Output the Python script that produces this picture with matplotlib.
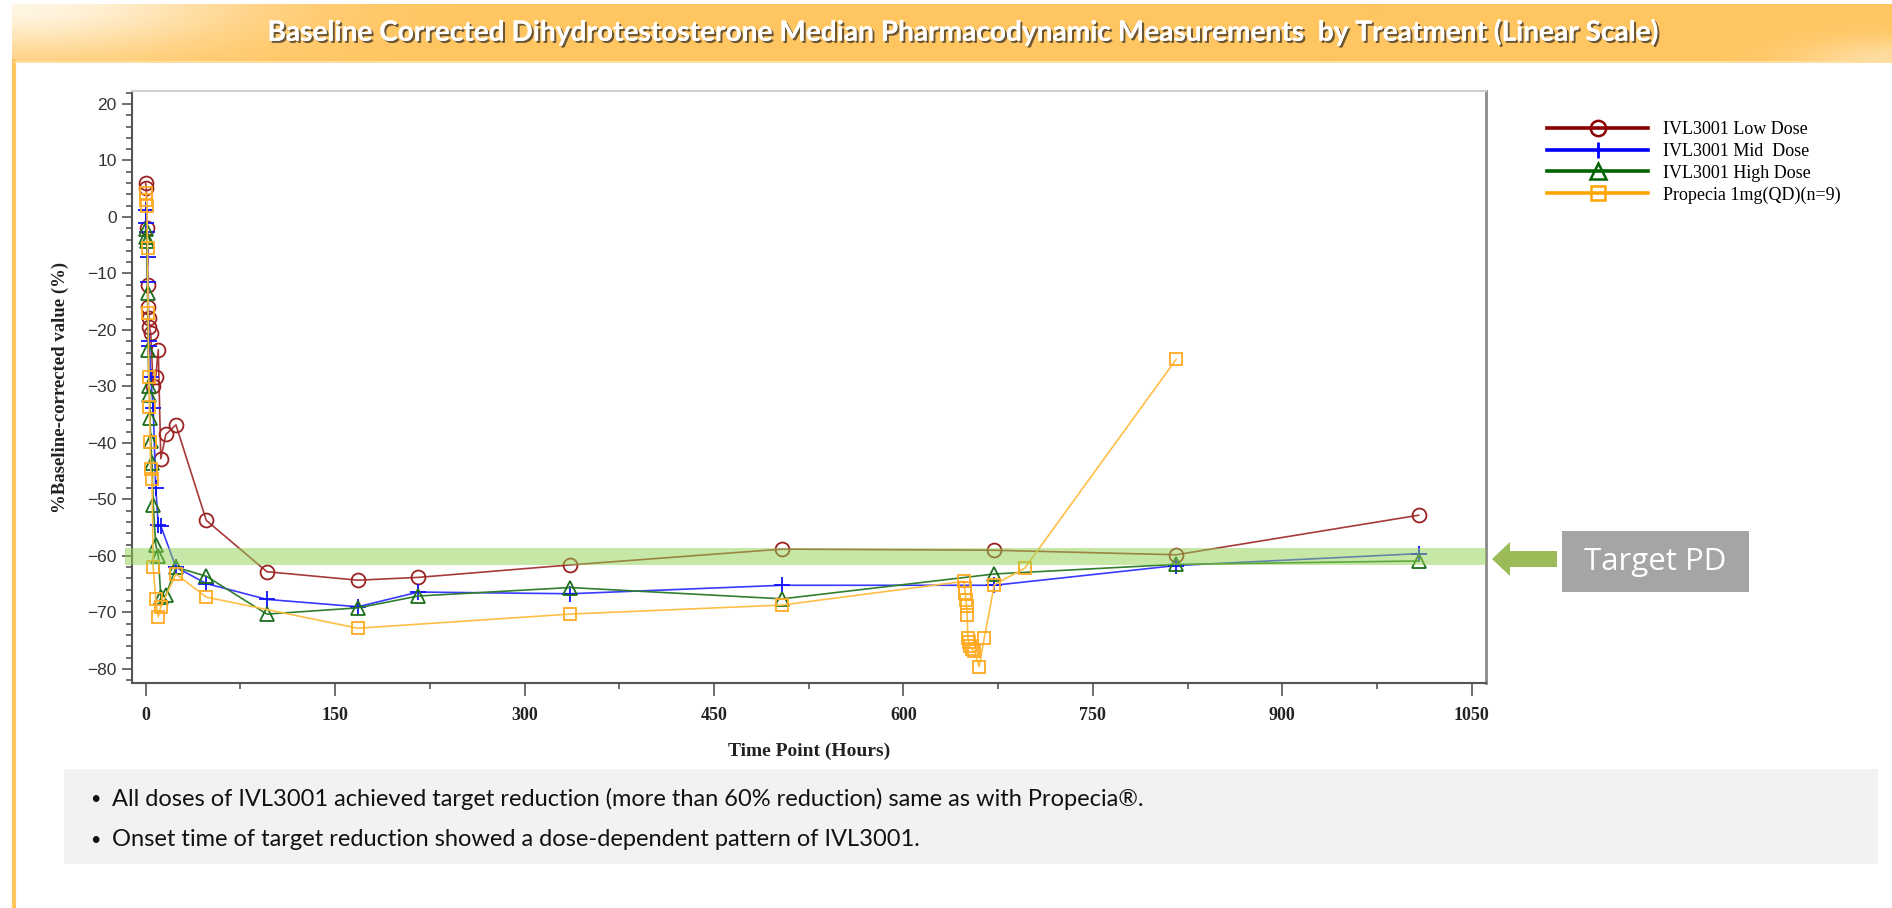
import numpy as np
import matplotlib
matplotlib.use("Agg")
import matplotlib.pyplot as plt
from matplotlib.lines import Line2D
from matplotlib.patches import Rectangle, Polygon
from matplotlib.ticker import MultipleLocator
import matplotlib.patheffects as pe
import matplotlib.transforms as mtransforms

# ---------------- data ----------------
low_t = [0, 0.5, 1, 1.5, 2, 2.5, 3, 4, 6, 8, 10, 12, 16, 24, 48, 96, 168, 216, 336, 504, 672, 816, 1008]
low_v = [6.0, 5.2, -2.0, -12.0, -16.0, -17.8, -19.5, -20.5, -30.0, -28.3, -23.5, -42.8, -38.5, -36.8,
         -53.7, -62.8, -64.3, -63.8, -61.6, -58.8, -59.0, -59.8, -52.8]

mid_t = [0, 0.5, 1, 1.5, 2, 2.5, 3, 4, 6, 8, 10, 12, 24, 48, 96, 168, 216, 336, 504, 672, 816, 1008]
mid_v = [-1.0, 1.2, -2.7, -7.1, -11.5, -22.0, -22.8, -28.3, -33.9, -48.0, -54.5, -54.7, -62.0,
         -64.9, -67.7, -69.0, -66.4, -66.7, -65.2, -65.2, -61.7, -59.6]

high_t = [0, 0.5, 1, 1.5, 2, 2.5, 3, 3.5, 4, 5, 6, 8, 10, 12, 16, 24, 48, 96, 168, 216, 336, 504, 672, 816, 1008]
high_v = [-2.2, -3.5, -4.3, -13.5, -23.5, -30.0, -31.5, -35.5, -39.7, -43.5, -51.0, -58.0, -60.0,
          -67.2, -67.0, -62.0, -63.6, -70.3, -69.2, -67.1, -65.6, -67.6, -63.2, -61.5, -60.9]

prop_t = [0, 0.5, 1, 1.5, 2, 2.5, 3, 3.5, 4, 5, 6, 8, 10, 12, 24, 48, 168, 336, 504,
          648, 648.5, 649, 649.5, 650, 650.5, 651, 652, 653, 654, 656, 660, 664, 672, 696, 816]
prop_v = [4.3, 3.0, 2.0, -5.5, -17.0, -28.3, -33.7, -39.8, -44.7, -46.3, -62.0, -67.7, -70.8, -69.0,
          -63.2, -67.3, -72.8, -70.3, -68.7, -64.5, -65.7, -66.6, -67.8, -68.9, -70.4, -74.5, -75.3,
          -76.0, -76.5, -76.8, -79.6, -74.6, -65.1, -62.2, -25.2]

labels = ["IVL3001 Low Dose", "IVL3001 Mid  Dose", "IVL3001 High Dose", "Propecia 1mg(QD)(n=9)"]
target_low, target_high = -61.6, -58.6
x_ticks = [0, 150, 300, 450, 600, 750, 900, 1050]
y_ticks = [-80, -70, -60, -50, -40, -30, -20, -10, 0, 10, 20]

title = "Baseline Corrected Dihydrotestosterone Median Pharmacodynamic Measurements  by Treatment (Linear Scale)"
bullets = ["All doses of IVL3001 achieved target reduction (more than 60% reduction) same as with Propecia\u00ae.",
           "Onset time of target reduction showed a dose-dependent pattern of IVL3001."]

# ---------------- figure ----------------
W, H = 1892, 908
fig = plt.figure(figsize=(W / 100, H / 100), dpi=100)
fig.patch.set_facecolor("white")

def fx(px):
    return px / W

def fy(py):
    return 1 - py / H

# banner with gradient
bax = fig.add_axes([fx(12), fy(61), fx(1892 - 12), (61 - 4) / H])
bax.set_axis_off()
gx = np.linspace(0, 1, 400)[None, :]
gy = np.linspace(0, 1, 60)[:, None]
light = np.exp(-((gx / 0.12) ** 2 + (gy / 0.9) ** 2))
light2 = np.exp(-(((1 - gx) / 0.05) ** 2 + ((1 - gy) / 0.4) ** 2)) * 0.5
lt = np.clip(light + light2, 0, 1)
base = np.array([255, 197, 96]) / 255.0
top = np.array([255, 246, 228]) / 255.0
img = base[None, None, :] * (1 - lt[..., None]) + top[None, None, :] * lt[..., None]
bax.imshow(img, aspect="auto", extent=[0, 1, 0, 1], origin="upper")
bax.set_xlim(0, 1)
bax.set_ylim(0, 1)

fig.text(fx(962), fy(32), title, color="white", fontsize=20.2, fontweight="bold",
         family=["Lato", "DejaVu Sans"], ha="center", va="center",
         path_effects=[pe.withSimplePatchShadow(offset=(1.5, -1.5), shadow_rgbFace="#5a4a30", alpha=0.9),
                       pe.Normal()])

# panel border
fig.add_artist(Line2D([fx(14), fx(14)], [fy(61), fy(908)], color="#ffc55f", lw=3))
fig.add_artist(Line2D([fx(14), fx(1892)], [fy(62), fy(62)], color="#ffd890", lw=1.2))

# bottom note box
fig.add_artist(Rectangle((fx(64), fy(864)), fx(1878 - 64), (864 - 769) / H,
                         facecolor="#f2f2f2", edgecolor="none"))
for i, b in enumerate(bullets):
    yy = fy(799 + 41 * i)
    fig.text(fx(90), yy, "\u2022", fontsize=13, family=["Lato", "DejaVu Sans"], va="center", color="#111111")
    fig.text(fx(112), yy, b, fontsize=17, family=["Lato", "DejaVu Sans"], va="center", color="#111111")

# main axes
ax = fig.add_axes([fx(132), fy(683), fx(1486 - 132), (683 - 91) / H])
ax.set_xlim(-10.8, 1061.3)
ax.set_ylim(-82.5, 22.3)

series = [
    (low_t, low_v, "o", "#a83a3a", "#9a2222", "none", 10),
    (mid_t, mid_v, "+", "#3a3aff", "#1010ff", "none", 11),
    (high_t, high_v, "^", "#2f7f2f", "#1d6e1d", "none", 9.5),
    (prop_t, prop_v, "s", "#ffbf47", "#ffaa22", "none", 9),
]
for t, v, m, lc, mc, mf, ms in series:
    ax.plot(t, v, color=lc, lw=1.2, marker=m, markersize=ms, markerfacecolor=mf,
            markeredgecolor=mc, markeredgewidth=1.3, zorder=3)

# target band (semi-transparent, extends slightly left of spine)
trans = mtransforms.blended_transform_factory(fig.transFigure, ax.transData)
band = Rectangle((fx(125), target_low), fx(1486 - 125), target_high - target_low,
                 transform=trans, facecolor="#8fd14f", alpha=0.5, edgecolor="none",
                 zorder=5, clip_on=False)
fig.add_artist(band)

# ticks & spines
ax.set_xticks(x_ticks)
ax.set_yticks(y_ticks)
ax.xaxis.set_minor_locator(MultipleLocator(75))
ax.yaxis.set_minor_locator(MultipleLocator(2))
ax.tick_params(axis="both", which="major", direction="out", length=7, width=1.2, color="#555555")
ax.tick_params(axis="both", which="minor", direction="out", length=4, width=1.2, color="#555555")
ax.tick_params(axis="x", which="major", length=9, pad=8)
ax.tick_params(axis="y", which="major", pad=4)
for lab in ax.get_xticklabels():
    lab.set_family(["Liberation Serif"])
    lab.set_fontsize(13)
    lab.set_fontweight("bold")
    lab.set_color("#222222")
for lab in ax.get_yticklabels():
    lab.set_family(["Liberation Sans"])
    lab.set_fontsize(12.5)
    lab.set_color("#333333")
ax.spines["left"].set_color("#555555")
ax.spines["bottom"].set_color("#555555")
ax.spines["left"].set_linewidth(1.5)
ax.spines["bottom"].set_linewidth(1.5)
ax.spines["top"].set_color("#d0d0d0")
ax.spines["top"].set_linewidth(1.5)
ax.spines["right"].set_color("#8a8a8a")
ax.spines["right"].set_linewidth(2)

ax.set_xlabel("Time Point (Hours)", family=["Liberation Serif"], fontsize=14, fontweight="bold",
              color="#222222", labelpad=14)
ax.set_ylabel("%Baseline-corrected value (%)", family=["Liberation Serif"], fontsize=13.5,
              fontweight="bold", color="#222222", labelpad=13)

# legend
handles = [
    Line2D([], [], color="#8b0000", lw=2.6, marker="o", markersize=11, markerfacecolor="none",
           markeredgecolor="#8b0000", markeredgewidth=1.8),
    Line2D([], [], color="#0000ff", lw=2.6, marker="|", markersize=11, markeredgecolor="#0000ff",
           markeredgewidth=2),
    Line2D([], [], color="#006400", lw=2.6, marker="^", markersize=11, markerfacecolor="none",
           markeredgecolor="#006400", markeredgewidth=1.8),
    Line2D([], [], color="#ffa500", lw=2.6, marker="s", markersize=10, markerfacecolor="none",
           markeredgecolor="#ffa500", markeredgewidth=1.8),
]
leg = fig.legend(handles, labels, loc="upper left", bbox_to_anchor=(fx(1540), fy(114)),
                 frameon=False, prop={"family": "Liberation Serif", "size": 13},
                 handlelength=5.6, handletextpad=0.8, labelspacing=0.26, borderaxespad=0)

# arrow and Target PD label
arrow_px = [(1492, 559), (1510, 542), (1510, 551), (1557, 551), (1557, 567), (1510, 567), (1510, 576)]
fig.add_artist(Polygon([(fx(a), fy(b)) for a, b in arrow_px], closed=True,
                       facecolor="#9bbb59", edgecolor="none"))
fig.add_artist(Rectangle((fx(1562), fy(592)), fx(1749 - 1562), (592 - 531) / H,
                         facecolor="#a5a5a5", edgecolor="none"))
fig.text(fx(1655), fy(562), "Target PD", color="white", fontsize=22.5, family=["Open Sans", "DejaVu Sans"],
         ha="center", va="center")

fig.savefig("out.png", dpi=100)
